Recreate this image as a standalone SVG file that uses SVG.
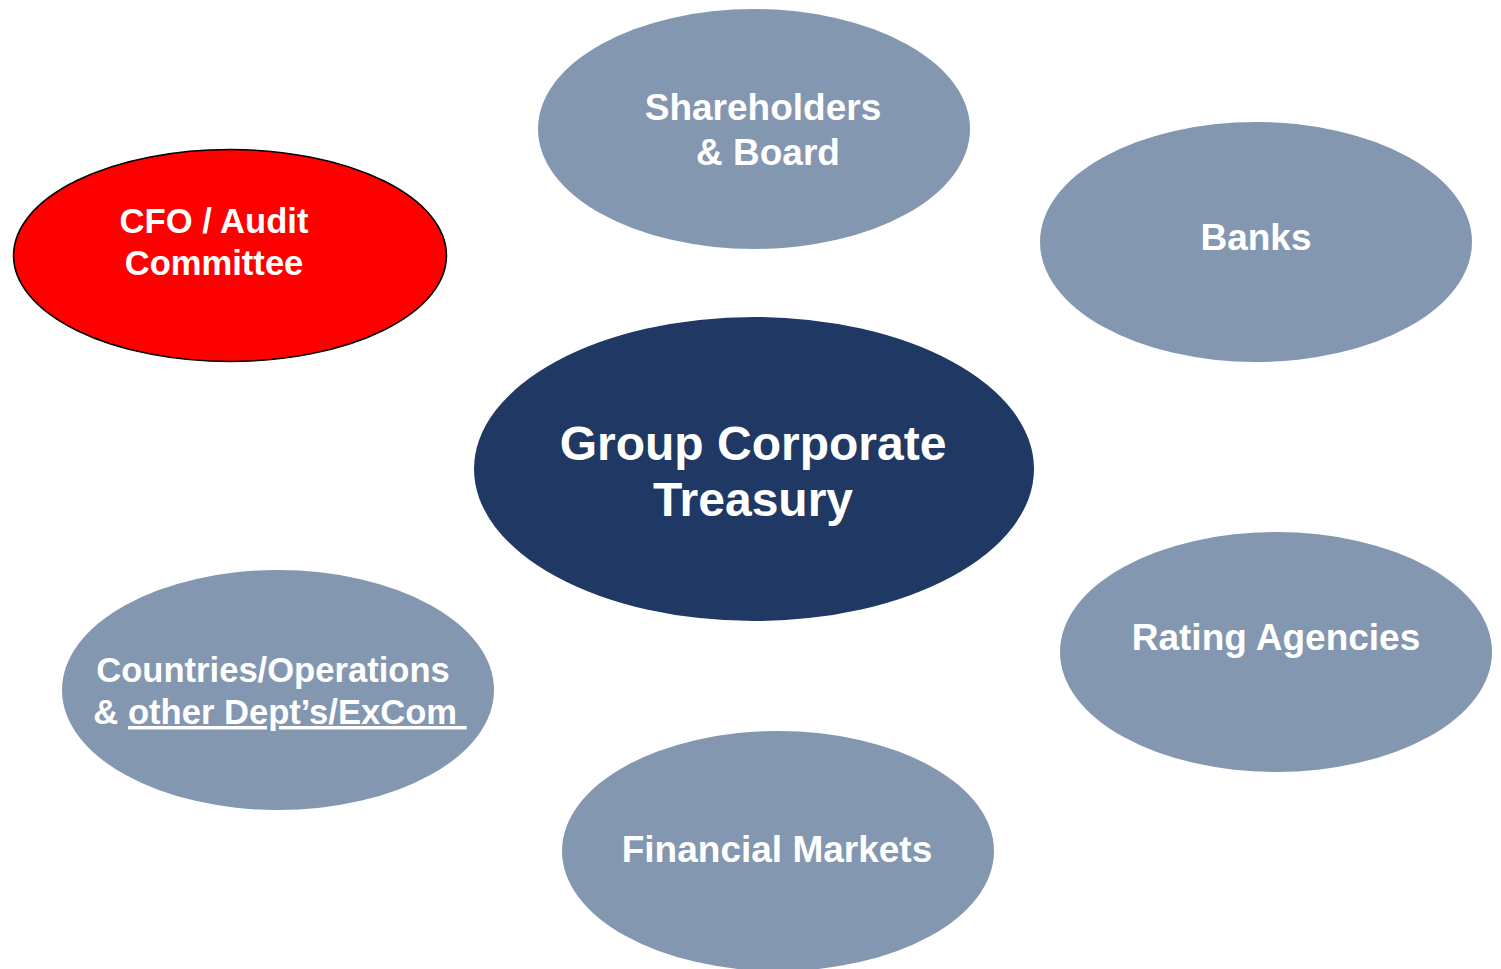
<svg xmlns="http://www.w3.org/2000/svg" width="1501" height="969" viewBox="0 0 1501 969">
<style>
.n{fill:#8497B0}
.t{font-family:"Liberation Sans",Arial,sans-serif;font-weight:bold;fill:#fff;text-anchor:middle}
.s36{font-size:37px}.s34{font-size:34.6px}.s48{font-size:48px}
</style>
<rect width="1501" height="969" fill="#fff"/>
<g id="connectors"/>
<g id="shareholders">
<ellipse class="n" cx="754" cy="129" rx="216" ry="120"/>
<text class="t s36" x="763" y="120">Shareholders</text>
<text class="t s36" x="768" y="165">&amp; Board</text>
</g>
<g id="banks">
<ellipse class="n" cx="1256" cy="242" rx="216" ry="120"/>
<text class="t s36" x="1256" y="250">Banks</text>
</g>
<g id="cfo">
<ellipse cx="230" cy="255.5" rx="216.5" ry="106" fill="#FF0000" stroke="#000" stroke-width="1.5"/>
<text class="t s34" x="214" y="233">CFO / Audit</text>
<text class="t s34" x="214" y="275">Committee</text>
</g>
<g id="treasury">
<ellipse cx="754" cy="469" rx="280" ry="152" fill="#203864"/>
<text class="t s48" x="753" y="460">Group Corporate</text>
<text class="t s48" x="753" y="516">Treasury</text>
</g>
<g id="countries">
<ellipse class="n" cx="278" cy="690" rx="216" ry="120"/>
<text class="t s34" x="273" y="682">Countries/Operations</text>
<text class="t s34" x="280" y="724">&amp; <tspan text-decoration="underline">other Dept’s/ExCom&#160;</tspan></text>
</g>
<g id="rating">
<ellipse class="n" cx="1276" cy="652" rx="216" ry="120"/>
<text class="t s36" x="1276" y="650">Rating Agencies</text>
</g>
<g id="markets">
<ellipse class="n" cx="778" cy="851" rx="216" ry="120"/>
<text class="t s36" x="777" y="862">Financial Markets</text>
</g>
</svg>
